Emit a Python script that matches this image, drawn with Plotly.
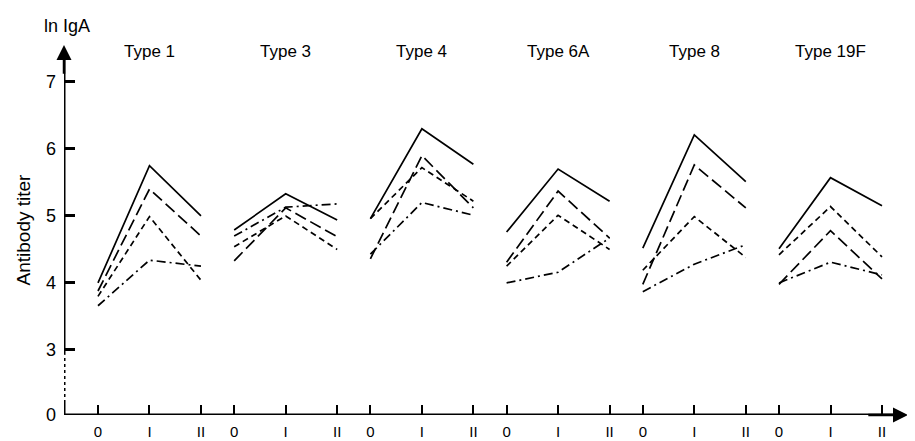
import plotly.graph_objects as go

types = ["Type 1", "Type 3", "Type 4", "Type 6A", "Type 8", "Type 19F"]
timepoints = ["0", "I", "II"]

solid = [[4.00, 5.75, 5.00], [4.79, 5.33, 4.94], [4.96, 6.30, 5.77],
         [4.76, 5.70, 5.22], [4.52, 6.21, 5.51], [4.51, 5.57, 5.15]]
long_dash = [[3.88, 5.40, 4.70], [4.33, 5.12, 4.69], [4.36, 5.90, 5.12],
             [4.31, 5.37, 4.67], [3.98, 5.76, 5.12], [3.98, 4.78, 4.06]]
short_dash = [[3.80, 4.99, 4.04], [4.54, 5.00, 4.50], [4.96, 5.72, 5.22],
              [4.25, 5.01, 4.50], [4.19, 4.99, 4.38], [4.42, 5.14, 4.39]]
dash_dot = [[3.66, 4.34, 4.25], [4.70, 5.13, 5.18], [4.43, 5.20, 5.01],
            [4.00, 4.16, 4.67], [3.87, 4.28, 4.57], [4.00, 4.31, 4.12]]

y_ticks = [3, 4, 5, 6, 7]
ZERO = 2.03  # position of the broken-axis "0"
GROUP_STEP = 2.645
XMIN, XMAX = -0.66, 15.73
YTOP = 7.55

FONT = "Liberation Sans, Arial, sans-serif"

def xs_for_group(g):
    return [g * GROUP_STEP + k for k in range(len(timepoints))]

series = [
    (solid, "solid"),
    (long_dash, "12px,5px"),
    (short_dash, "6px,4px"),
    (dash_dot, "9px,4px,2px,4px"),
]

fig = go.Figure()
for data, dash in series:
    xs, ys = [], []
    for g, vals in enumerate(data):
        xs += xs_for_group(g) + [None]
        ys += list(vals) + [None]
    fig.add_trace(go.Scatter(x=xs, y=ys, mode="lines",
                             line=dict(color="black", width=1.7, dash=dash),
                             showlegend=False, hoverinfo="skip"))

tickvals, ticktext = [], []
for g in range(len(types)):
    tickvals += xs_for_group(g)
    ticktext += timepoints

# axes drawn as shapes (broken y axis)
shapes = [
    dict(type="line", xref="x", yref="y", x0=XMIN, x1=XMIN, y0=2.93, y1=YTOP - 0.15,
         line=dict(color="black", width=3)),
    dict(type="line", xref="x", yref="y", x0=XMIN, x1=XMIN, y0=2.21, y1=2.93,
         line=dict(color="black", width=3, dash="dot")),
    dict(type="line", xref="x", yref="y", x0=XMIN, x1=XMIN, y0=ZERO, y1=2.21,
         line=dict(color="black", width=3)),
    dict(type="line", xref="x", yref="y", x0=XMIN, x1=XMAX - 0.15, y0=ZERO, y1=ZERO,
         line=dict(color="black", width=3)),
]

annotations = [
    dict(x=XMIN, y=YTOP, ax=XMIN, ay=7.1, xref="x", yref="y", axref="x", ayref="y",
         text="", showarrow=True, arrowhead=2, arrowsize=1.2, arrowwidth=2.5, arrowcolor="black"),
    dict(x=XMAX, y=ZERO, ax=XMAX - 0.8, ay=ZERO, xref="x", yref="y", axref="x", ayref="y",
         text="", showarrow=True, arrowhead=2, arrowsize=1.2, arrowwidth=2.5, arrowcolor="black"),
    dict(x=0, y=1.05, xref="paper", yref="paper", text="ln IgA", showarrow=False,
         xanchor="left", yanchor="middle", xshift=-22, font=dict(size=18, color="black", family=FONT)),
]
for g, name in enumerate(types):
    annotations.append(dict(x=xs_for_group(g)[1], y=0.982, xref="x", yref="paper", text=name,
                            showarrow=False, yanchor="middle",
                            font=dict(size=17, color="black", family=FONT)))

fig.update_layout(
    width=915, height=441,
    margin=dict(l=56, r=15, t=37, b=34, autoexpand=False),
    paper_bgcolor="white", plot_bgcolor="white",
    font=dict(family=FONT, color="black", size=17),
    shapes=shapes, annotations=annotations,
    xaxis=dict(range=[XMIN, XMAX], tickvals=tickvals, ticktext=ticktext,
               ticks="inside", ticklen=10, tickwidth=2, tickcolor="black",
               showgrid=False, zeroline=False, showline=False, automargin=False,
               tickfont=dict(size=15, family=FONT, color="black"), ticklabelstandoff=6,
               fixedrange=True),
    yaxis=dict(range=[ZERO, YTOP], tickvals=[ZERO] + y_ticks,
               ticktext=["0"] + [str(v) for v in y_ticks],
               ticks="inside", ticklen=11, tickwidth=2.5, tickcolor="black",
               showgrid=False, zeroline=False, showline=False, automargin=False,
               tickfont=dict(size=18, family=FONT, color="black"), ticklabelstandoff=7,
               title=dict(text="Antibody titer", font=dict(size=19, family=FONT, color="black"),
                          standoff=10),
               fixedrange=True),
)

fig.write_html("out.html")
